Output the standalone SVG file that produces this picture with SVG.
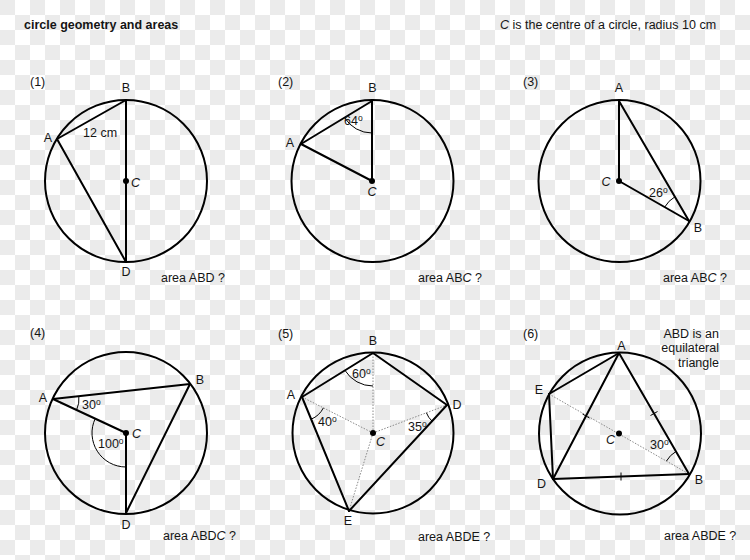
<svg xmlns="http://www.w3.org/2000/svg" width="750" height="560" viewBox="0 0 750 560">
<defs>
<pattern id="chk" width="30" height="30" patternUnits="userSpaceOnUse">
<rect width="30" height="30" fill="#ffffff"/>
<rect width="15" height="15" fill="#ebebeb"/>
<rect x="15" y="15" width="15" height="15" fill="#ebebeb"/>
</pattern>
<style>
text{font-family:"Liberation Sans",Arial,sans-serif;font-size:12.5px;fill:#151515}
.b{font-weight:bold}
.i{font-style:italic}
.cir{fill:none;stroke:#000;stroke-width:2}
.ln{fill:none;stroke:#000;stroke-width:2;stroke-linecap:round}
.arc{fill:none;stroke:#000;stroke-width:1}
.dt{fill:none;stroke:#8a8a8a;stroke-width:1;stroke-dasharray:1.5 1.5}
.tk{fill:none;stroke:#000;stroke-width:1}
.ctr{fill:#000}
.sup{font-size:8.5px}
.r{text-anchor:end}
.m{text-anchor:middle}
</style>
</defs>
<rect width="750" height="560" fill="url(#chk)"/>
<g id="header">
<text class="b" x="24" y="29">circle geometry and areas</text>
<text x="500" y="29"><tspan class="i">C</tspan> is the centre of a circle, radius 10 cm</text>
</g>

<g id="panel1">
<text x="30" y="86">(1)</text>
<circle class="cir" cx="126" cy="181" r="81"/>
<g id="p1-connectors">
<line class="ln" x1="126" y1="100" x2="126" y2="262"/>
<line class="ln" x1="57" y1="139" x2="126" y2="100"/>
<line class="ln" x1="57" y1="139" x2="126" y2="262"/>
</g>
<circle class="ctr" cx="126" cy="181" r="3"/>
<text class="m" x="126" y="92">B</text>
<text class="m" x="48" y="142">A</text>
<text x="83" y="137">12 cm</text>
<text class="i" x="131" y="187">C</text>
<text class="m" x="126" y="276">D</text>
<text x="161" y="282">area ABD ?</text>
</g>

<g id="panel2">
<text x="278" y="86">(2)</text>
<circle class="cir" cx="372.5" cy="181" r="81"/>
<g id="p2-connectors">
<line class="ln" x1="372" y1="101" x2="372" y2="181"/>
<line class="ln" x1="301" y1="144" x2="372" y2="101"/>
<line class="ln" x1="301" y1="144" x2="372" y2="181"/>
<path class="arc" d="M372 133 A32 32 0 0 1 344.6 117.6"/>
</g>
<circle class="ctr" cx="372" cy="181" r="3"/>
<text class="m" x="372.5" y="92">B</text>
<text class="m" x="290" y="147">A</text>
<text class="i m" x="372" y="196">C</text>
<text x="344" y="125">64<tspan class="sup" dy="-4">o</tspan></text>
<text x="418" y="282">area AB<tspan class="i">C</tspan> ?</text>
</g>

<g id="panel3">
<text x="523" y="86">(3)</text>
<circle class="cir" cx="619.5" cy="181" r="81"/>
<g id="p3-connectors">
<line class="ln" x1="619" y1="101" x2="619" y2="181"/>
<line class="ln" x1="619" y1="181" x2="689" y2="221"/>
<line class="ln" x1="619" y1="101" x2="689" y2="221"/>
<path class="arc" d="M664.7 207.1 A28 28 0 0 1 674.9 196.8"/>
</g>
<circle class="ctr" cx="619" cy="181" r="3"/>
<text class="m" x="619" y="92">A</text>
<text class="i m" x="606" y="186">C</text>
<text class="m" x="698" y="232">B</text>
<text x="649" y="197">26<tspan class="sup" dy="-4">o</tspan></text>
<text x="663" y="282">area AB<tspan class="i">C</tspan> ?</text>
</g>

<g id="panel4">
<text x="30" y="337">(4)</text>
<circle class="cir" cx="126" cy="433" r="81"/>
<g id="p4-connectors">
<line class="ln" x1="53" y1="399" x2="190" y2="384"/>
<line class="ln" x1="53" y1="399" x2="126" y2="433"/>
<line class="ln" x1="126" y1="433" x2="126" y2="513"/>
<line class="ln" x1="190" y1="384" x2="126" y2="513"/>
<path class="arc" d="M78.85 396.17 A26 26 0 0 1 76.57 409.97"/>
<path class="arc" d="M126 467 A34 34 0 0 1 95.2 418.6"/>
</g>
<circle class="ctr" cx="126" cy="433" r="3"/>
<text class="m" x="43" y="401.5">A</text>
<text class="m" x="200" y="384">B</text>
<text class="i" x="132" y="437.5">C</text>
<text class="m" x="126" y="529">D</text>
<text x="82" y="409">30<tspan class="sup" dy="-4">o</tspan></text>
<text x="98" y="447.5">100<tspan class="sup" dy="-4">o</tspan></text>
<text x="163" y="540">area ABD<tspan class="i">C</tspan> ?</text>
</g>

<g id="panel5">
<text x="278" y="338">(5)</text>
<circle class="cir" cx="373" cy="433" r="80.5"/>
<g id="p5-connectors">
<line class="dt" x1="373" y1="433" x2="373" y2="353"/>
<line class="dt" x1="373" y1="433" x2="302" y2="397"/>
<line class="dt" x1="373" y1="433" x2="447" y2="405"/>
<line class="dt" x1="373" y1="433" x2="349" y2="511"/>
<line class="ln" x1="302" y1="397" x2="373" y2="353"/>
<line class="ln" x1="373" y1="353" x2="447" y2="405"/>
<line class="ln" x1="447" y1="405" x2="349" y2="511"/>
<line class="ln" x1="349" y1="511" x2="302" y2="397"/>
<path class="arc" d="M373 386 A33 33 0 0 1 344.95 370.39"/>
<path class="arc" d="M323.4 407.86 A24 24 0 0 1 311.14 419.19"/>
<path class="arc" d="M432.06 421.14 A22 22 0 0 1 426.42 412.78"/>
</g>
<circle class="ctr" cx="373" cy="433" r="3"/>
<text class="m" x="373" y="345">B</text>
<text class="m" x="291" y="399">A</text>
<text class="m" x="457" y="409">D</text>
<text class="i" x="376" y="446">C</text>
<text class="m" x="348" y="525">E</text>
<text x="352" y="377.5">60<tspan class="sup" dy="-4">o</tspan></text>
<text x="318" y="426">40<tspan class="sup" dy="-4">o</tspan></text>
<text x="408" y="431">35<tspan class="sup" dy="-4">o</tspan></text>
<text x="418" y="541">area ABDE ?</text>
</g>

<g id="panel6">
<text x="523" y="337.5">(6)</text>
<text class="r" x="719" y="337.5">ABD is an</text>
<text class="r" x="719" y="352">equilateral</text>
<text class="r" x="719" y="367">triangle</text>
<circle class="cir" cx="620" cy="433.5" r="81"/>
<g id="p6-connectors">
<line class="dt" x1="549" y1="394" x2="689" y2="474"/>
<line class="ln" x1="619" y1="353" x2="689" y2="474"/>
<line class="ln" x1="689" y1="474" x2="553" y2="479"/>
<line class="ln" x1="553" y1="479" x2="619" y2="353"/>
<line class="ln" x1="619" y1="353" x2="549" y2="394"/>
<line class="ln" x1="549" y1="394" x2="553" y2="479"/>
<line class="tk" x1="650.5" y1="415.5" x2="657.5" y2="411.5"/>
<line class="tk" x1="621" y1="472.5" x2="621" y2="480.5"/>
<line class="tk" x1="582.5" y1="414" x2="589.5" y2="418"/>
<path class="arc" d="M666.42 461.1 A26 26 0 0 1 675.99 451.49"/>
</g>
<circle class="ctr" cx="619" cy="433.5" r="3"/>
<text class="m" x="621.5" y="350">A</text>
<text class="m" x="699" y="483.5">B</text>
<text class="m" x="541.5" y="487.5">D</text>
<text class="m" x="539" y="394">E</text>
<text class="i" x="606" y="444">C</text>
<text x="650" y="449">30<tspan class="sup" dy="-4">o</tspan></text>
<text x="664" y="540">area ABDE ?</text>
</g>
</svg>
